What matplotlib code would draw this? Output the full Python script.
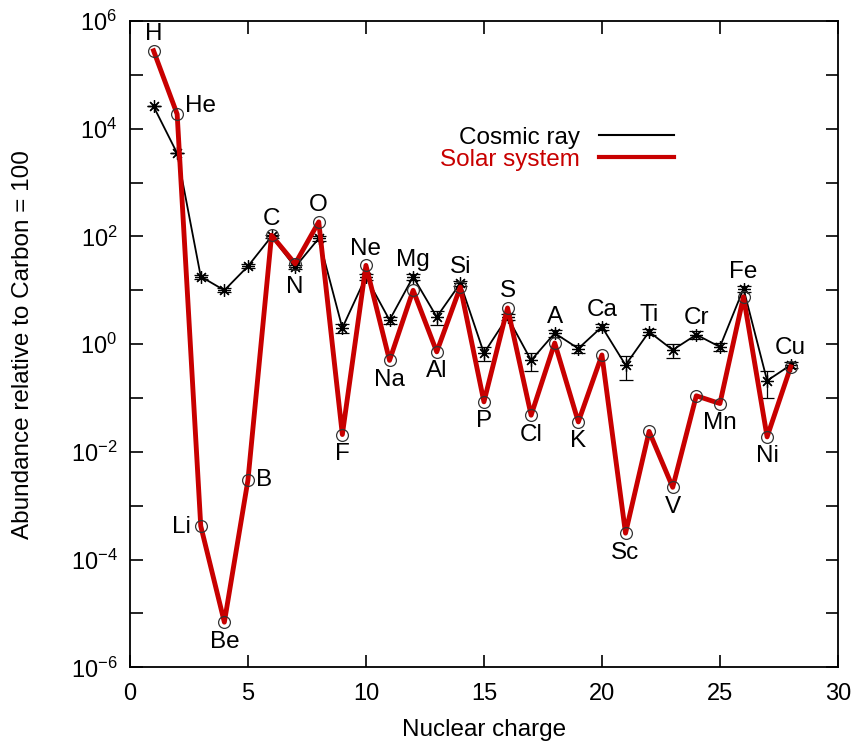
import numpy as np
import matplotlib
matplotlib.use('Agg')
import matplotlib.pyplot as plt
from matplotlib.lines import Line2D

plt.rcParams['font.family'] = ['Liberation Sans', 'DejaVu Sans']
plt.rcParams['mathtext.fontset'] = 'custom'
plt.rcParams['mathtext.rm'] = 'Liberation Sans'
plt.rcParams['mathtext.it'] = 'Liberation Sans'

# Nuclear charge and element symbols
charge = list(range(1, 29))
elements = ['H', 'He', 'Li', 'Be', 'B', 'C', 'N', 'O', 'F', 'Ne', 'Na', 'Mg', 'Al', 'Si',
            'P', 'S', 'Cl', 'A', 'K', 'Ca', 'Sc', 'Ti', 'V', 'Cr', 'Mn', 'Fe', 'Ni', 'Cu']

# Abundances relative to carbon = 100
cosmic_ray = [2.6e4, 3.5e3, 18, 10, 28, 100, 27, 92, 2.0, 17.8, 2.8, 17.8, 3.2, 13.5,
              0.68, 3.2, 0.5, 1.6, 0.83, 2.1, 0.41, 1.7, 0.78, 1.5, 0.89, 10.7, 0.21, 0.41]
cosmic_err = [0.0, 0.0, 1.5, 0.8, 2.5, 8, 2.5, 8, 0.4, 2.0, 0.4, 2.0, 0.9, 1.5,
              0.2, 0.4, 0.18, 0.25, 0.15, 0.25, 0.19, 0.25, 0.22, 0.25, 0.15, 1.5, 0.11, 0.05]
solar_system = [2.8e5, 1.86e4, 4.2e-4, 6.9e-6, 3.0e-3, 105, 31, 186, 0.021, 29, 0.5, 10,
                0.72, 11.5, 0.085, 4.7, 0.048, 1.05, 0.036, 0.63, 3.1e-4, 0.024, 2.2e-3,
                0.11, 0.079, 7.6, 0.019, 0.38]

# where each element name sits: above (a), below (b), left (l), right (r)
label_side = ['a', 'r', 'l', 'b', 'r', 'a', 'b', 'a', 'b', 'a', 'b', 'a', 'b', 'a',
              'b', 'a', 'b', 'a', 'b', 'a', 'b', 'a', 'b', 'a', 'b', 'a', 'b', 'a']

red = '#c80000'

fig = plt.figure(figsize=(8.55, 7.49), dpi=100)
ax = fig.add_axes([0.152, 0.109, 0.828, 0.863])

ax.errorbar(charge, cosmic_ray, yerr=cosmic_err, color='black', lw=1.3,
            marker=(8, 2, 0), markersize=9, markeredgewidth=0.9,
            capsize=5, elinewidth=0.9, capthick=0.9, zorder=2)
ax.plot(charge, solar_system, color=red, lw=3.5, zorder=3)
ax.plot(charge, solar_system, ls='none', marker='o', markersize=8.5,
        markerfacecolor='none', markeredgecolor='#333333', markeredgewidth=0.9, zorder=4)

fs = 17.5
for z, name, side, c, s in zip(charge, elements, label_side, cosmic_ray, solar_system):
    if side == 'a':
        ax.annotate(name, (z, max(c, s)), xytext=(0, 12), textcoords='offset points',
                    ha='center', va='center', fontsize=fs)
    elif side == 'b':
        ax.annotate(name, (z, min(c, s)), xytext=(0, -14), textcoords='offset points',
                    ha='center', va='center', fontsize=fs)
    elif side == 'r':
        ax.annotate(name, (z, s), xytext=(6, 6 if z == 2 else 0), textcoords='offset points',
                    ha='left', va='center', fontsize=fs)
    else:
        ax.annotate(name, (z, s), xytext=(-7, -1), textcoords='offset points',
                    ha='right', va='center', fontsize=fs)

ax.set_yscale('log')
ax.set_xlim(0, 30)
ax.set_ylim(1e-6, 1e6)
ax.set_xticks(range(0, 31, 5))
yt = [10.0 ** k for k in range(-6, 7)]
ax.set_yticks(yt)
ax.set_yticklabels(['$10^{%d}$' % k if k % 2 == 0 else '' for k in range(-6, 7)])
ax.minorticks_off()
ax.tick_params(direction='in', length=9, width=1.2, labelsize=17, top=True, right=True, pad=9)
ax.tick_params(axis='x', pad=11)
for sp in ax.spines.values():
    sp.set_linewidth(1.3)

ax.set_xlabel('Nuclear charge', fontsize=fs)
ax.set_ylabel('Abundance relative to Carbon = 100', fontsize=fs)
ax.xaxis.set_label_coords(0.5, -0.08)
ax.yaxis.set_label_coords(-0.135, 0.5)

handles = [Line2D([], [], color='black', lw=1.5), Line2D([], [], color=red, lw=3)]
leg = ax.legend(handles, ['Cosmic ray', 'Solar system'], loc='upper right',
                bbox_to_anchor=(0.8, 0.87), frameon=False, markerfirst=False,
                handlelength=3.1, fontsize=fs, labelspacing=0.0, handletextpad=0.8)
leg.get_texts()[1].set_color(red)

fig.savefig('out.png', dpi=100)
